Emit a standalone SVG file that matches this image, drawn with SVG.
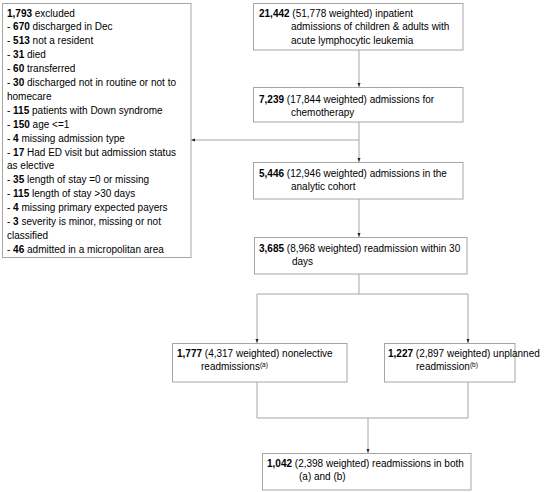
<svg xmlns="http://www.w3.org/2000/svg" width="550" height="492" viewBox="0 0 550 492">
<defs>
<style>
.box{fill:#fff;stroke:#a6a6a6;stroke-width:1}
.t{font-family:"Liberation Sans",Arial,sans-serif;font-size:10px;fill:#000}
.b{font-weight:bold}
.sup{font-size:6.5px}
.c{fill:none;stroke:#a6a6a6;stroke-width:1}
</style>
<marker id="ah" viewBox="0 0 4 4" refX="4" refY="2" markerWidth="4" markerHeight="4" orient="auto" markerUnits="userSpaceOnUse">
<path d="M0,0.5 L4,2 L0,3.5 z" fill="#222"/>
</marker>
</defs>
<rect width="550" height="492" fill="#fff"/>
<g id="connectors">
<line class="c" x1="359" y1="50" x2="359" y2="87" marker-end="url(#ah)"/>
<line class="c" x1="359" y1="122" x2="359" y2="162" marker-end="url(#ah)"/>
<line class="c" x1="359" y1="140" x2="191" y2="140" marker-end="url(#ah)"/>
<line class="c" x1="359" y1="199" x2="359" y2="237" marker-end="url(#ah)"/>
<polyline class="c" points="359,274 359,294"/>
<polyline class="c" points="257,294 468,294"/>
<line class="c" x1="257" y1="294" x2="257" y2="343" marker-end="url(#ah)"/>
<line class="c" x1="468" y1="294" x2="468" y2="343" marker-end="url(#ah)"/>
<polyline class="c" points="257,382 257,418 468,418 468,382"/>
<line class="c" x1="368" y1="418" x2="368" y2="453" marker-end="url(#ah)"/>
</g>
<g id="excluded">
<rect class="box" x="2.5" y="3.5" width="188.5" height="254"/>
<text class="t" x="7" y="16.5"><tspan class="b">1,793</tspan> excluded</text>
<text class="t" x="7" y="30.4">- <tspan class="b">670</tspan> discharged in Dec</text>
<text class="t" x="7" y="44.3">- <tspan class="b">513</tspan> not a resident</text>
<text class="t" x="7" y="58.2">- <tspan class="b">31</tspan> died</text>
<text class="t" x="7" y="72.1">- <tspan class="b">60</tspan> transferred</text>
<text class="t" x="7" y="86">- <tspan class="b">30</tspan> discharged not in routine or not to</text>
<text class="t" x="7" y="99.9">homecare</text>
<text class="t" x="7" y="113.8">- <tspan class="b">115</tspan> patients with Down syndrome</text>
<text class="t" x="7" y="127.7">- <tspan class="b">150</tspan> age &lt;=1</text>
<text class="t" x="7" y="141.6">-  <tspan class="b">4</tspan> missing admission type</text>
<text class="t" x="7" y="155.5">- <tspan class="b">17</tspan> Had ED visit but admission status</text>
<text class="t" x="7" y="169.4">as elective</text>
<text class="t" x="7" y="183.3">- <tspan class="b">35</tspan> length of stay =0 or missing</text>
<text class="t" x="7" y="197.2">- <tspan class="b">115</tspan> length of stay &gt;30 days</text>
<text class="t" x="7" y="211.1">- <tspan class="b">4</tspan> missing primary expected payers</text>
<text class="t" x="7" y="225">- <tspan class="b">3</tspan> severity is minor, missing or not</text>
<text class="t" x="7" y="238.9">classified</text>
<text class="t" x="7" y="252.8">- <tspan class="b">46</tspan> admitted in a micropolitan area</text>
</g>
<g id="all">
<rect class="box" x="253.5" y="3.5" width="209.5" height="46.5"/>
<text class="t" x="259" y="16.5"><tspan class="b">21,442</tspan> (51,778 weighted) inpatient</text>
<text class="t" x="291" y="30">admissions of children &amp; adults with</text>
<text class="t" x="291" y="44">acute lymphocytic leukemia</text>
</g>
<g id="chemo">
<rect class="box" x="253.5" y="87.5" width="209.5" height="34.5"/>
<text class="t" x="259" y="102.5"><tspan class="b">7,239</tspan> (17,844 weighted) admissions for</text>
<text class="t" x="291" y="116">chemotherapy</text>
</g>
<g id="cohort">
<rect class="box" x="253.5" y="162.5" width="209.5" height="36.5"/>
<text class="t" x="259" y="176.5"><tspan class="b">5,446</tspan> (12,946 weighted) admissions in the</text>
<text class="t" x="291" y="190">analytic cohort</text>
</g>
<g id="readmission">
<rect class="box" x="254.5" y="237.5" width="212.5" height="36.5"/>
<text class="t" x="259" y="251.5"><tspan class="b">3,685</tspan> (8,968 weighted) readmission within  30</text>
<text class="t" x="292" y="265">days</text>
</g>
<g id="nonelective">
<rect class="box" x="172.5" y="343.5" width="174.5" height="38.5"/>
<text class="t" x="177" y="356.5"><tspan class="b">1,777</tspan> (4,317 weighted) nonelective</text>
<text class="t" x="201" y="370">readmissions<tspan class="sup" dy="-3.5">(a)</tspan></text>
</g>
<g id="unplanned">
<rect class="box" x="384.5" y="343.5" width="130.5" height="38.5"/>
<text class="t" x="388" y="356.5"><tspan class="b">1,227</tspan> (2,897 weighted) unplanned</text>
<text class="t" x="416" y="370">readmission<tspan class="sup" dy="-3.5">(b)</tspan></text>
</g>
<g id="both">
<rect class="box" x="262.5" y="453.5" width="208.5" height="36.5"/>
<text class="t" x="267" y="466.5"><tspan class="b">1,042</tspan> (2,398 weighted) readmissions in both</text>
<text class="t" x="299" y="480">(a) and (b)</text>
</g>
</svg>
